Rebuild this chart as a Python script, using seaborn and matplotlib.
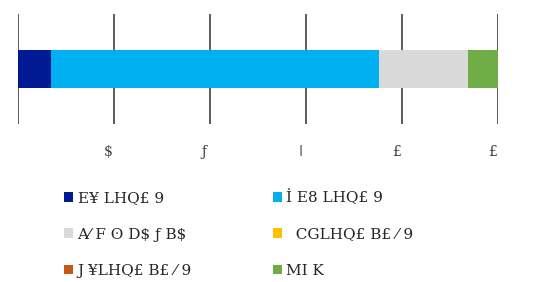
import matplotlib
matplotlib.use("Agg")
import matplotlib.pyplot as plt
from matplotlib.patches import Patch
import seaborn as sns
import pandas as pd
import numpy as np

sns.set_theme(style="white")
plt.rcParams['font.family'] = ['DejaVu Serif', 'DejaVu Sans']

categories = ["E¥ LHQ£ 9", "İ E8 LHQ£ 9", "A⁄ F ʘ D\\$ ƒ B\\$", "  CGLHQ£ B£ ⁄ 9", "J ¥LHQ£ B£ ⁄ 9", "MI K"]
values = [0.069, 0.683, 0.186, 0.0, 0.0, 0.062]
colors = ["#001A94", "#00B0F0", "#D9D9D9", "#FFC000", "#C55A11", "#70AD47"]
tick_values = [0.2, 0.4, 0.6, 0.8, 1.0]
tick_labels = ["\\$", "ƒ", "ǀ", "£", "£"]

fig = plt.figure(figsize=(5.37, 2.82), dpi=100)
ax = fig.add_axes([18/537, 1-124/282, 480/537, 110/282])

cum = np.cumsum(values)
for i in range(len(values)-1, -1, -1):
    df = pd.DataFrame({"x": [cum[i]], "y": ["row"]})
    sns.barplot(data=df, x="x", y="y", color=colors[i], orient="h", ax=ax,
                width=0.35, saturation=1, linewidth=0, zorder=2)

ax.set_xlim(0, 1.0)
ax.set_ylim(0.5, -0.5)
for gx in [0.0] + tick_values:
    ax.axvline(gx, color="#404040", lw=1.2, zorder=1)
ax.set_xticks([t - 0.012 for t in tick_values])
ax.set_xticklabels(tick_labels, fontsize=10, color="#404040")
ax.tick_params(axis="x", length=0, pad=15)
ax.set_yticks([])
ax.set_xlabel("")
ax.set_ylabel("")
for s in ax.spines.values():
    s.set_visible(False)

order = [0, 2, 4, 1, 3, 5]
handles = [Patch(facecolor=colors[i], edgecolor="none") for i in order]
labels = [categories[i] for i in order]
fig.legend(handles, labels, loc="upper left", bbox_to_anchor=(50/537, 1-176/282),
           ncol=2, frameon=False, fontsize=11, handlelength=0.6, handleheight=0.6,
           handletextpad=0.3, columnspacing=5.3, labelspacing=1.45,
           labelcolor="#262626")

fig.savefig("out.png", dpi=100)
